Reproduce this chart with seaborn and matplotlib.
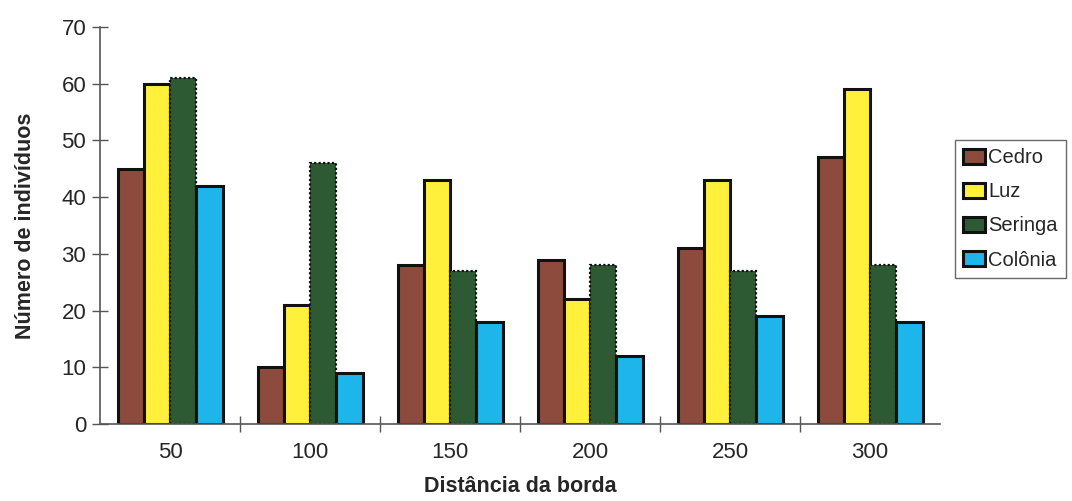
import matplotlib
matplotlib.use("Agg")
import matplotlib.pyplot as plt
import seaborn as sns
import pandas as pd
import numpy as np

# Distance classes and counts per site
distancias = ["50", "100", "150", "200", "250", "300"]
cedro = [45, 10, 28, 29, 31, 47]
luz = [60, 21, 43, 22, 43, 59]
seringa = [61, 46, 27, 28, 27, 28]
colonia = [42, 9, 18, 12, 19, 18]
series = ["Cedro", "Luz", "Seringa", "Colônia"]
cores = ["#8C4B3C", "#FFF03C", "#2E5A33", "#1DB5EA"]

df = pd.DataFrame({
    "Distância da borda": distancias * 4,
    "Número de indivíduos": cedro + luz + seringa + colonia,
    "Local": sum([[s] * len(distancias) for s in series], []),
})

sns.set_theme(style="white")
plt.rcParams["font.family"] = ["Liberation Sans", "DejaVu Sans"]

fig = plt.figure(figsize=(10.72, 5.01), dpi=100)
ax = fig.add_axes([0.0933, 0.1537, 0.7837, 0.7924])

sns.barplot(data=df, x="Distância da borda", y="Número de indivíduos",
            hue="Local", palette=cores, width=0.75, saturation=1,
            edgecolor="#111111", linewidth=2.2, ax=ax, legend=True)

# dotted outline for the Seringa bars
for cont, nome in zip(ax.containers, series):
    if nome == "Seringa":
        for b in cont:
            b.set_linestyle((0, (1, 1)))
            b.set_linewidth(1.6)

ax.set_ylim(0, 70)
ax.set_xlim(-0.5, 5.5)
ax.set_yticks(range(0, 71, 10))
ax.tick_params(axis="y", which="major", direction="inout", length=12,
               width=1, color="#555555", labelsize=16, pad=4, left=True)
ax.tick_params(axis="x", which="major", length=0, labelsize=16, pad=13)
ax.set_xticks(np.arange(0.5, 5.5, 1), minor=True)
ax.tick_params(axis="x", which="minor", direction="inout", length=12,
               width=1, color="#555555", bottom=True)

for s in ["top", "right"]:
    ax.spines[s].set_visible(False)
for s in ["left", "bottom"]:
    ax.spines[s].set_color("#555555")
    ax.spines[s].set_linewidth(1.2)

ax.set_ylabel("Número de indivíduos", fontsize=15.5, fontweight="bold", labelpad=18)
ax.set_xlabel("Distância da borda", fontsize=15.5, fontweight="bold", labelpad=9)

leg = ax.legend(loc="upper left", bbox_to_anchor=(1.018, 0.715), fontsize=14.5,
                frameon=True, fancybox=False, edgecolor="#444444",
                handlelength=1.1, handleheight=0.8, handletextpad=0.15,
                borderpad=0.4, borderaxespad=0, labelspacing=0.75, title=None)
leg.get_frame().set_linewidth(1.0)

fig.savefig("out.png", dpi=100)
